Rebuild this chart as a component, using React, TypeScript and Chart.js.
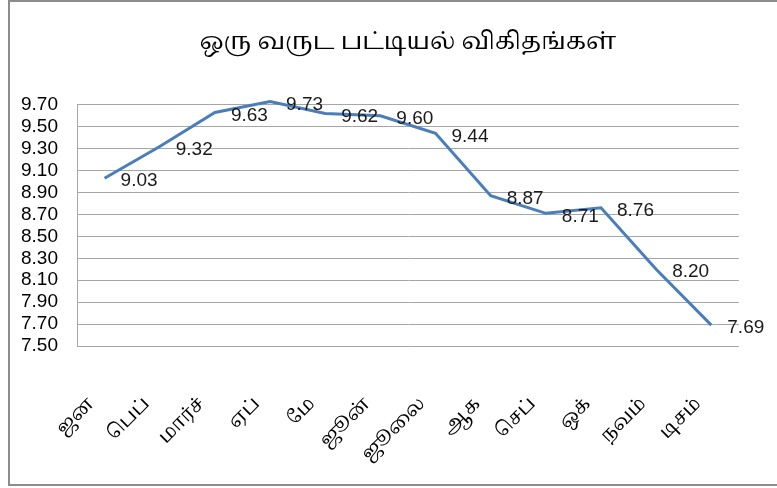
import React, { useEffect, useRef } from "react";
import { Chart, registerables } from "chart.js";

Chart.register(...registerables);

const chartTitle = "ஒரு வருட பட்டியல் விகிதங்கள்";
const months = ["ஜன", "பெப்", "மார்ச்", "ஏப்", "மே", "ஜூன்", "ஜூலை", "ஆக", "செப்", "ஒக்", "நவம்", "டிசம்"];
const rates = [9.03, 9.32, 9.63, 9.73, 9.62, 9.6, 9.44, 8.87, 8.71, 8.76, 8.2, 7.69];
const yMin = 7.5;
const yMax = 9.7;
const yStep = 0.2;

const NUM_FONT = "'Liberation Sans', Arial, sans-serif";
const TAMIL_FONT = "'Noto Serif Tamil', 'Noto Sans Tamil', Latha, 'Lohit Tamil', serif";

const framePlugin = {
  id: "frame",
  beforeDraw(chart: any) {
    const ctx = chart.ctx;
    ctx.save();
    ctx.fillStyle = "#ffffff";
    ctx.fillRect(0, 0, chart.width, chart.height);
    ctx.restore();
  },
  afterDraw(chart: any) {
    const ctx = chart.ctx;
    ctx.save();
    ctx.strokeStyle = "#8c8c8c";
    ctx.lineWidth = 2;
    ctx.strokeRect(9, 1, 900, 484);
    ctx.restore();
  },
};

const valueLabels = {
  id: "valueLabels",
  afterDatasetsDraw(chart: any) {
    const ctx = chart.ctx;
    const meta = chart.getDatasetMeta(0);
    ctx.save();
    ctx.font = `19px ${NUM_FONT}`;
    ctx.fillStyle = "#1a1a1a";
    ctx.textAlign = "left";
    ctx.textBaseline = "middle";
    meta.data.forEach((pt: any, i: number) => {
      const txt = rates[i].toFixed(2);
      const w = ctx.measureText(txt).width;
      const x = Math.min(pt.x + 16, chart.width - w - 1);
      ctx.fillText(txt, x, pt.y + 3);
    });
    ctx.restore();
  },
};

export default function App() {
  const ref = useRef<HTMLCanvasElement | null>(null);

  useEffect(() => {
    if (!ref.current) return;
    const chart = new Chart(ref.current, {
      type: "line",
      data: {
        labels: months,
        datasets: [
          {
            data: rates,
            borderColor: "#4a7ebb",
            borderWidth: 3,
            pointRadius: 0,
            pointHoverRadius: 0,
            tension: 0,
            fill: false,
            clip: false,
          } as any,
        ],
      },
      options: {
        responsive: false,
        animation: false,
        layout: { padding: { left: 0, right: 19, top: 0, bottom: 0 } },
        plugins: {
          legend: { display: false },
          tooltip: { enabled: false },
          title: {
            display: true,
            text: chartTitle,
            fullSize: false,
            color: "#000000",
            font: { family: TAMIL_FONT, size: 24, weight: "normal" },
            padding: { top: 30, bottom: 46 },
          },
        },
        scales: {
          x: {
            offset: true,
            grid: { display: false, drawTicks: false },
            border: { display: false },
            ticks: {
              autoSkip: false,
              maxRotation: 45,
              minRotation: 45,
              padding: 48,
              labelOffset: -12,
              color: "#000000",
              font: { family: TAMIL_FONT, size: 19 },
            },
            afterFit(scale: any) {
              scale.height = 142;
            },
          },
          y: {
            min: yMin,
            max: yMax,
            grid: { color: "#a6a6a6", lineWidth: 1, drawTicks: false },
            border: { display: true, color: "#a6a6a6", width: 1 },
            ticks: {
              autoSkip: false,
              stepSize: yStep,
              padding: 19,
              color: "#000000",
              font: { family: NUM_FONT, size: 19, lineHeight: 1 },
              callback: (v: any) => Number(v).toFixed(2),
            },
            afterFit(scale: any) {
              scale.width = 77;
            },
          },
        },
      },
      plugins: [framePlugin, valueLabels],
    });
    return () => chart.destroy();
  }, []);

  return (
    <div style={{ position: "fixed", left: 0, top: 0, width: 777, height: 488 }}>
      <canvas ref={ref} width={777} height={488} style={{ display: "block", width: 777, height: 488 }} />
    </div>
  );
}
